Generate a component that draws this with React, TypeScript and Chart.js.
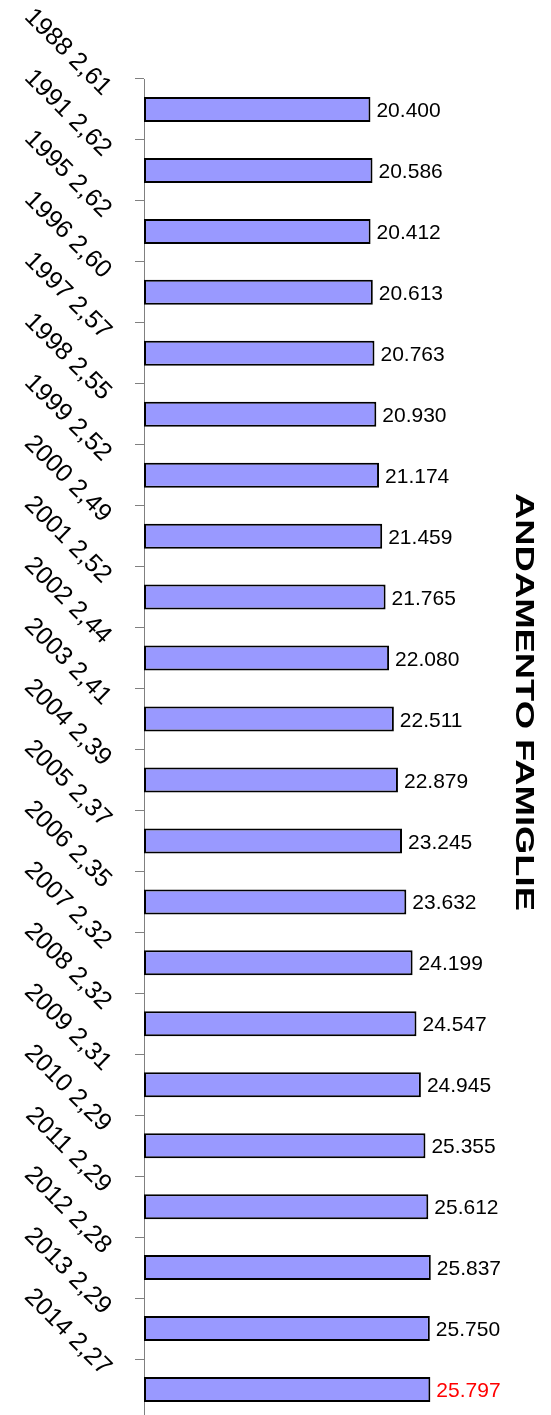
import { useEffect, useRef } from 'react';
import { Chart, registerables } from 'chart.js';

Chart.register(...registerables);

const categories = [
  '1988 2,61', '1991 2,62', '1995 2,62', '1996 2,60', '1997 2,57', '1998 2,55',
  '1999 2,52', '2000 2,49', '2001 2,52', '2002 2,44', '2003 2,41', '2004 2,39',
  '2005 2,37', '2006 2,35', '2007 2,32', '2008 2,32', '2009 2,31', '2010 2,29',
  '2011 2,29', '2012 2,28', '2013 2,29', '2014 2,27',
];

const families = [
  20400, 20586, 20412, 20613, 20763, 20930, 21174, 21459, 21765, 22080, 22511,
  22879, 23245, 23632, 24199, 24547, 24945, 25355, 25612, 25837, 25750, 25797,
];

const titleText = 'ANDAMENTO FAMIGLIE';
const axisMin = 0;
const axisMax = 30000;

const fmt = (v: number) => String(v).replace(/\B(?=(\d{3})+(?!\d))/g, '.');

const FONT = "'Liberation Sans', Arial, sans-serif";

const valueLabels = {
  id: 'valueLabels',
  afterDatasetsDraw(chart: any) {
    const ctx = chart.ctx;
    const meta = chart.getDatasetMeta(0);
    ctx.save();
    ctx.font = `21px ${FONT}`;
    ctx.textAlign = 'left';
    ctx.textBaseline = 'alphabetic';
    meta.data.forEach((el: any, i: number) => {
      const { x, y } = el.getProps(['x', 'y'], true);
      ctx.fillStyle = i === families.length - 1 ? '#FF0000' : '#000000';
      ctx.fillText(fmt(families[i]), x + 6, y + 7.6);
    });
    ctx.restore();
  },
};

const sideTitle = {
  id: 'sideTitle',
  afterDraw(chart: any) {
    const ctx = chart.ctx;
    ctx.save();
    ctx.font = `bold 26px ${FONT}`;
    const w = ctx.measureText(titleText).width;
    ctx.translate(525, 702);
    ctx.rotate(Math.PI / 2);
    ctx.scale(418 / w, 1);
    ctx.fillStyle = '#000000';
    ctx.textAlign = 'center';
    ctx.textBaseline = 'alphabetic';
    ctx.fillText(titleText, 0, 9.3);
    ctx.restore();
  },
};

export default function App() {
  const ref = useRef<HTMLCanvasElement | null>(null);

  useEffect(() => {
    if (!ref.current) return;
    const chart = new Chart(ref.current, {
      type: 'bar',
      data: {
        labels: categories,
        datasets: [
          {
            data: families,
            backgroundColor: '#9999FF',
            borderColor: '#000000',
            borderWidth: 2,
            borderSkipped: false,
            barPercentage: 0.41,
            categoryPercentage: 1,
          },
        ],
      },
      options: {
        indexAxis: 'y',
        animation: false,
        responsive: true,
        maintainAspectRatio: false,
        layout: { padding: { top: 79, right: 74, bottom: 0, left: 0 } },
        plugins: {
          legend: { display: false },
          title: { display: false },
          tooltip: { enabled: false },
        },
        scales: {
          x: {
            display: false,
            min: axisMin,
            max: axisMax,
          },
          y: {
            offset: true,
            grid: {
              offset: true,
              drawOnChartArea: false,
              drawTicks: true,
              tickLength: 9,
              color: '#808080',
            },
            border: { display: true, color: '#808080', width: 1 },
            ticks: {
              autoSkip: false,
              minRotation: -45,
              maxRotation: -45,
              padding: 28,
              labelOffset: -18,
              color: '#000000',
              font: { family: FONT, size: 25 },
            },
            afterFit(scale: any) {
              scale.width = 144;
              scale.paddingTop = 0;
              scale.paddingBottom = 0;
            },
          },
        },
      },
      plugins: [valueLabels, sideTitle],
    });
    return () => chart.destroy();
  }, []);

  return (
    <div style={{ position: 'absolute', left: 0, top: 0, width: 551, height: 1420 }}>
      <canvas ref={ref} />
    </div>
  );
}
